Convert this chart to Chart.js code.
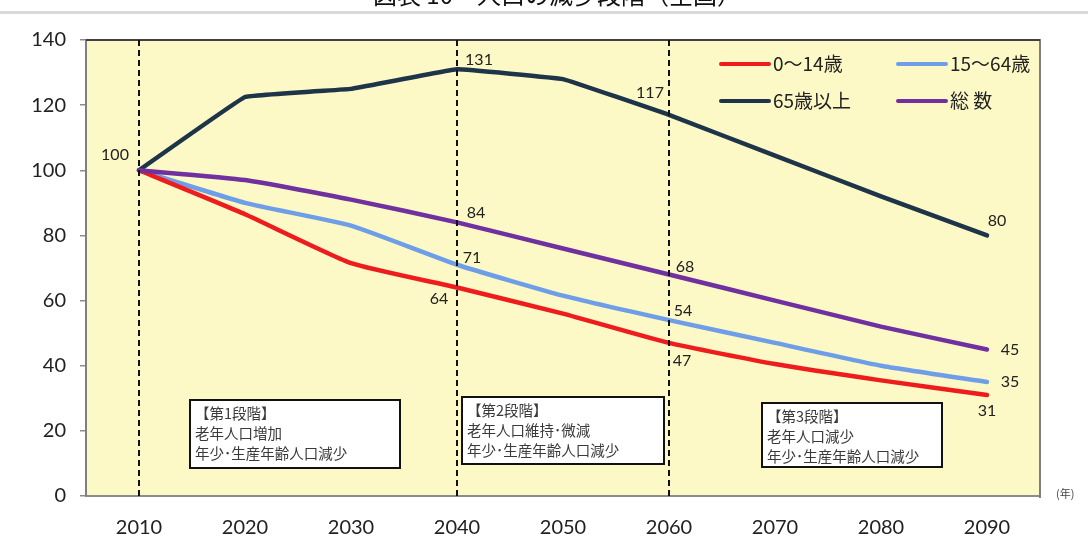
<!DOCTYPE html>
<html><head><meta charset="utf-8">
<script src="https://cdn.jsdelivr.net/npm/chart.js@4/dist/chart.umd.min.js"></script>
<style>html,body{margin:0;padding:0;background:#fff;}canvas{display:block;}</style>
</head><body>
<canvas id="c" width="1088" height="554"></canvas>
<script>
const years = ['2010','2020','2030','2040','2050','2060','2070','2080','2090'];
const seriesNames = ['0～14歳','15～64歳','65歳以上','総 数'];
const age0_14  = [100, 86.5, 71.5, 64, 56, 47, 40.5, 35.5, 31];
const age15_64 = [100, 90, 83, 71, 61.5, 54, 47, 40, 35];
const age65up  = [100, 122.5, 125, 131, 128, 117, 104.5, 92, 80];
const total    = [100, 97, 91, 84, 76, 68, 60, 52, 45];
const yTicks = [0,20,40,60,80,100,120,140];
const phaseYears = ['2010','2040','2060'];
const phaseNotes = [
  ['【第1段階】','老年人口増加','年少･生産年齢人口減少'],
  ['【第2段階】','老年人口維持･微減','年少･生産年齢人口減少'],
  ['【第3段階】','老年人口減少','年少･生産年齢人口減少']
];
const titleText = '図表 10　人口の減少段階（全国）';
const unitText = '(年)';
// labelled points: [seriesIndex, categoryIndex, dx, dy]
const labelled = [
  [0,3,-18,11],[0,5,13,18],[0,8,0,16],
  [1,3,15,-7],[1,5,14,-9],[1,8,23,0],
  [2,0,-24,-15],[2,3,22,-9],[2,5,-19,-22],[2,8,10,-15],
  [3,3,19,-10],[3,5,16,-8],[3,8,23,0]
];
const colors = ['#ee1c1c','#6f9ee8','#1d3449','#7030a0'];
const allData = [age0_14, age15_64, age65up, total];

const jp = '"Noto Sans CJK JP", "Noto Sans", sans-serif';
const numFont = 'Lato, "Open Sans", sans-serif';

const decor = {
  id:'decor',
  beforeDraw(chart){
    const {ctx, chartArea:a} = chart;
    ctx.save();
    ctx.fillStyle = '#111';
    ctx.font = '24px ' + jp;
    ctx.textAlign = 'center'; ctx.textBaseline = 'middle';
    ctx.fillText(titleText, 557, -5);
    ctx.fillStyle = '#d9d9d9';
    ctx.fillRect(0, 11, 1088, 3);
    ctx.fillStyle = '#fdf9c6';
    ctx.fillRect(a.left, a.top, a.right - a.left, a.bottom - a.top);
    ctx.restore();
  },
  afterDatasetsDraw(chart){
    const {ctx, chartArea:a, scales} = chart;
    const x = scales.x;
    ctx.save();
    ctx.strokeStyle = '#7f7f7f'; ctx.lineWidth = 2;
    ctx.beginPath();
    ctx.moveTo(a.left, a.bottom); ctx.lineTo(a.left, a.top); ctx.lineTo(a.right, a.top); ctx.lineTo(a.right, a.bottom+2);
    ctx.stroke();
    ctx.strokeStyle = '#404040';
    ctx.beginPath(); ctx.moveTo(a.left, a.top); ctx.lineTo(a.right, a.top); ctx.stroke();
    ctx.strokeStyle = '#111'; ctx.lineWidth = 2; ctx.setLineDash([6,4]);
    phaseYears.forEach(py => {
      const px = Math.round(x.getPixelForValue(years.indexOf(py)));
      ctx.beginPath(); ctx.moveTo(px, a.top); ctx.lineTo(px, a.bottom); ctx.stroke();
    });
    ctx.setLineDash([]);
    ctx.restore();
  },
  afterDraw(chart){
    const {ctx, scales} = chart;
    const x = scales.x, y = scales.y;
    ctx.save();
    ctx.fillStyle = '#222';
    ctx.font = '16px ' + numFont;
    ctx.textAlign = 'center'; ctx.textBaseline = 'middle';
    labelled.forEach(([s,i,dx,dy]) => {
      const v = allData[s][i];
      ctx.fillText(String(Math.round(v)), x.getPixelForValue(i)+dx, y.getPixelForValue(v)+dy);
    });
    const boxes = [[190,400,210,68],[462,397,202,67],[762,403,180,64]];
    boxes.forEach((b,k) => {
      ctx.fillStyle = '#fff';
      ctx.fillRect(b[0],b[1],b[2],b[3]);
      ctx.strokeStyle = '#111'; ctx.lineWidth = 2;
      ctx.strokeRect(b[0],b[1],b[2],b[3]);
      ctx.fillStyle = '#3a3a3a';
      ctx.font = '14.5px ' + jp;
      ctx.textAlign = 'left'; ctx.textBaseline = 'middle';
      phaseNotes[k].forEach((t,j) => ctx.fillText(t, b[0]+5, b[1]+13+j*20));
    });
    const lg = [[721,64],[898,64],[721,101],[898,101]];
    seriesNames.forEach((n,k) => {
      const [lx,ly] = lg[k];
      ctx.strokeStyle = colors[k]; ctx.lineWidth = 4; ctx.lineCap='round';
      ctx.beginPath(); ctx.moveTo(lx, ly); ctx.lineTo(lx+48, ly); ctx.stroke();
      ctx.fillStyle = '#222';
      ctx.font = '19px ' + jp;
      ctx.textAlign='left'; ctx.textBaseline='middle';
      ctx.fillText(n, lx+52, ly);
    });
    ctx.fillStyle = '#444'; ctx.font = '11px ' + jp;
    ctx.textAlign='left'; ctx.textBaseline='middle';
    ctx.fillText(unitText, 1056, 494);
    ctx.restore();
  }
};

const order = [2,3,1,0];
new Chart(document.getElementById('c'), {
  type:'line',
  data:{
    labels: years,
    datasets: seriesNames.map((n,k)=>({
      label:n, data:allData[k], borderColor:colors[k], backgroundColor:colors[k],
      borderWidth:4.5, pointRadius:0, tension: k===2 ? 0.05 : 0.15, order: order[k],
      borderCapStyle:'round', borderJoinStyle:'round'
    }))
  },
  options:{
    responsive:false, animation:false,
    layout:{padding:{top:40,right:48,left:0,bottom:0}},
    plugins:{legend:{display:false}, tooltip:{enabled:false}},
    scales:{
      x:{
        offset:true,
        grid:{display:false, drawTicks:false},
        border:{display:true, color:'#8c8c8c', width:2},
        ticks:{padding:20, color:'#222', font:{family:numFont, size:20}},
        afterFit(s){ s.height = 58; }
      },
      y:{
        min:0, max:140,
        afterBuildTicks(s){ s.ticks = yTicks.map(v=>({value:v})); },
        grid:{display:true, drawOnChartArea:false, drawTicks:true, tickLength:6, color:'#8c8c8c', lineWidth:1.5},
        border:{display:true, color:'#8c8c8c', width:2},
        ticks:{padding:14, color:'#222', font:{family:numFont, size:20}},
        afterFit(s){ s.width = 86; }
      }
    }
  },
  plugins:[decor]
});
</script>
</body></html>
